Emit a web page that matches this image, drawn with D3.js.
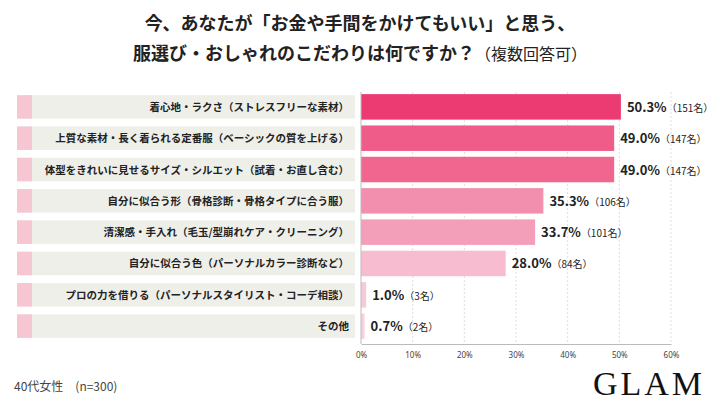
<!DOCTYPE html>
<html><head><meta charset="utf-8">
<script src="https://cdn.jsdelivr.net/npm/d3@7"></script>
<style>body{margin:0;background:#fff;font-family:"Noto Sans CJK JP",sans-serif;}</style>
</head><body>
<svg id="c" width="720" height="405"></svg>
<script>
const categories = [
  "着心地・ラクさ（ストレスフリーな素材）",
  "上質な素材・長く着られる定番服（ベーシックの質を上げる）",
  "体型をきれいに見せるサイズ・シルエット（試着・お直し含む）",
  "自分に似合う形（骨格診断・骨格タイプに合う服）",
  "清潔感・手入れ（毛玉/型崩れケア・クリーニング）",
  "自分に似合う色（パーソナルカラー診断など）",
  "プロの力を借りる（パーソナルスタイリスト・コーデ相談）",
  "その他"
];
const percents = [50.3, 49.0, 49.0, 35.3, 33.7, 28.0, 1.0, 0.7];
const counts = [151, 147, 147, 106, 101, 84, 3, 2];
const colors = ["#ec3a72","#f05c8a","#f0668f","#f38fae","#f49fb9","#f7bccf","#f8cad8","#f8d3de"];
const ticks = [0,10,20,30,40,50,60];

const svg = d3.select("#c");
const x = d3.scaleLinear().domain([0,60]).range([361,671]);
const y = d3.scaleBand().domain(d3.range(categories.length)).range([92,341]).paddingInner(0.25).paddingOuter(0.1);

svg.append("text").attr("x",360).attr("y",30).attr("text-anchor","middle")
  .attr("font-size",18).attr("font-weight",700).attr("fill","#222")
  .text("今、あなたが「お金や手間をかけてもいい」と思う、");
const t2 = svg.append("text").attr("x",360).attr("y",60).attr("text-anchor","middle")
  .attr("font-size",18).attr("font-weight",700).attr("fill","#222");
t2.append("tspan").text("服選び・おしゃれのこだわりは何ですか？");
t2.append("tspan").attr("font-weight",400).attr("font-size",16).text("（複数回答可）");

// grid
svg.append("g").selectAll("line").data(ticks.slice(1)).join("line")
  .attr("x1",d=>x(d)).attr("x2",d=>x(d)).attr("y1",92).attr("y2",344)
  .attr("stroke","#ddd").attr("stroke-dasharray","2,2");

const rows = svg.append("g").selectAll("g").data(categories).join("g");
rows.append("rect").attr("x",17).attr("width",338).attr("y",(d,i)=>y(i)).attr("height",y.bandwidth()).attr("fill","#efefea");
rows.append("rect").attr("x",17).attr("width",15).attr("y",(d,i)=>y(i)).attr("height",y.bandwidth()).attr("fill","#f6c6d3");
rows.append("text").attr("x",349).attr("y",(d,i)=>y(i)+y.bandwidth()/2+4).attr("text-anchor","end")
  .attr("font-size",10.5).attr("font-weight",700).attr("fill","#222").text(d=>d);
rows.append("rect").attr("x",x(0)).attr("y",(d,i)=>y(i)-1).attr("height",y.bandwidth()+2)
  .attr("width",(d,i)=>x(percents[i])-x(0)).attr("fill",(d,i)=>colors[i]);
const lab = rows.append("text").attr("x",(d,i)=>x(percents[i])+6).attr("y",(d,i)=>y(i)+y.bandwidth()/2+5)
  .attr("fill","#222");
lab.append("tspan").attr("font-size",13).attr("font-weight",700).text((d,i)=>percents[i].toFixed(1)+"%");
lab.append("tspan").attr("font-size",10).text((d,i)=>"（"+counts[i]+"名）");

const ax = svg.append("g").attr("transform","translate(0,344)")
  .call(d3.axisBottom(x).tickValues(ticks).tickFormat(d=>d+"%").tickSize(0).tickPadding(8));
ax.select(".domain").attr("stroke","#bbb");
ax.selectAll("text").attr("font-size",8).attr("fill","#444").attr("font-family","Noto Sans");
svg.append("line").attr("x1",361).attr("x2",361).attr("y1",92).attr("y2",344).attr("stroke","#bbb");

svg.append("text").attr("x",14).attr("y",391).attr("font-size",12).attr("fill","#444").text("40代女性　(n=300)");
svg.append("text").attr("x",705).attr("y",395).attr("text-anchor","end").attr("font-size",34)
  .attr("font-family","Liberation Serif").attr("letter-spacing",3).attr("fill","#111").text("GLAM");
</script>
</body></html>
